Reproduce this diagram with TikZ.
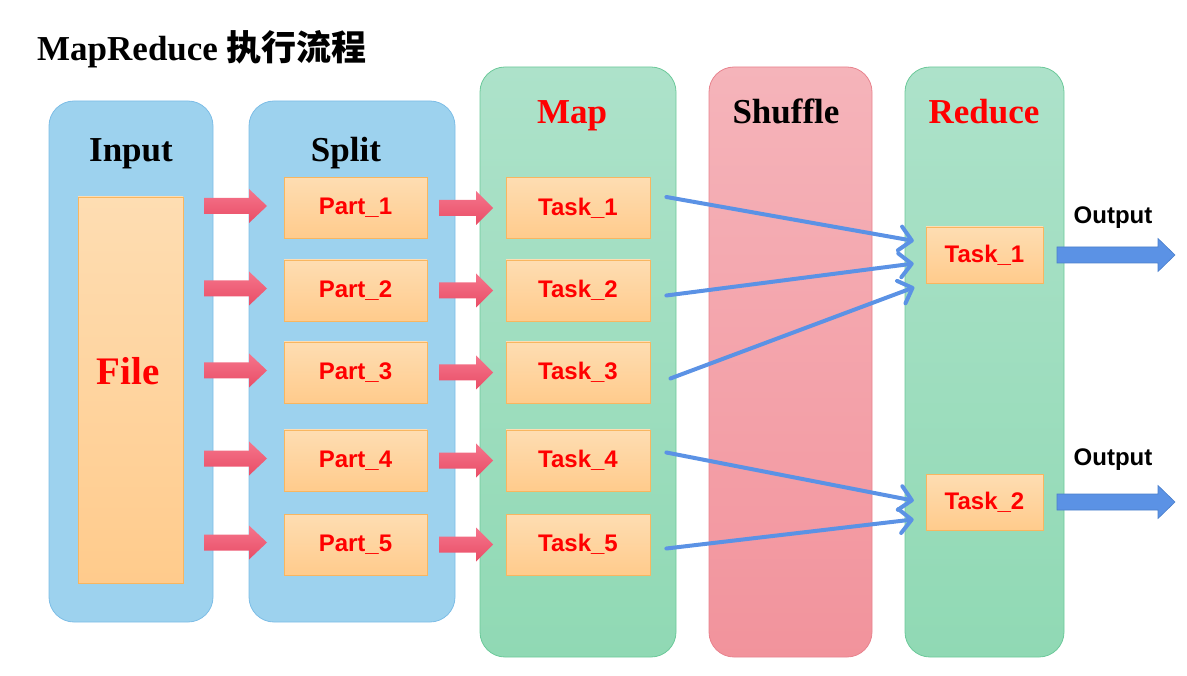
\documentclass[tikz,border=0pt]{standalone}
\usepackage{fontspec}
\setmainfont{Liberation Serif}
\newfontfamily\sansf{Liberation Sans}
\newfontfamily\cjkf{Noto Sans CJK SC}
\usetikzlibrary{arrows.meta,calc}
\definecolor{stageblue}{HTML}{9DD2EE}
\definecolor{stageblueline}{HTML}{7DBDE6}
\definecolor{greentop}{HTML}{ADE2CA}
\definecolor{greenbot}{HTML}{90D9B4}
\definecolor{greenline}{HTML}{6CC99A}
\definecolor{pinktop}{HTML}{F5B4BA}
\definecolor{pinkbot}{HTML}{F2939C}
\definecolor{pinkline}{HTML}{E8838E}
\definecolor{orangetop}{HTML}{FEDDB2}
\definecolor{orangebot}{HTML}{FFCB8C}
\definecolor{orangeline}{HTML}{F8B660}
\definecolor{redtxt}{HTML}{FF0000}
\definecolor{arrowtop}{HTML}{F5758C}
\definecolor{arrowbot}{HTML}{E94D66}
\definecolor{flowblue}{HTML}{5B92E5}
\definecolor{flowblueline}{HTML}{4A7FCB}
\tikzset{
  stage/.style={rounded corners=25pt, inner sep=0pt, draw, line width=0.8pt},
  bluestage/.style={stage, fill=stageblue, draw=stageblueline},
  greenstage/.style={stage, top color=greentop, bottom color=greenbot, draw=greenline},
  pinkstage/.style={stage, top color=pinktop, bottom color=pinkbot, draw=pinkline},
  stagetitle/.style={font=\fontsize{35}{40}\selectfont\bfseries, anchor=base, inner sep=0pt},
  taskbox/.style={top color=orangetop, bottom color=orangebot, draw=orangeline, line width=0.8pt,
    inner sep=0pt, font=\sansf\fontsize{24}{27}\selectfont\bfseries, text=redtxt},
  partbox/.style={taskbox, minimum width=143pt, minimum height=61pt},
  redarr/.style={top color=arrowtop, bottom color=arrowbot, draw=none},
  outarr/.style={fill=flowblue, draw=flowblueline, line width=0.6pt},
  flow/.style={draw=flowblue, line width=4pt, line cap=round,
    -{Straight Barb[length=12pt,width=24pt,line width=4pt,round]},
    shorten >=12pt},
  outlabel/.style={font=\sansf\fontsize{24}{27}\selectfont\bfseries, inner sep=0pt}
}
\begin{document}
\begin{tikzpicture}[x=1pt,y=-1pt]
\useasboundingbox (0,0) rectangle (1187,676);
% title
\node[anchor=base west, inner sep=0pt, font=\fontsize{35}{40}\selectfont\bfseries] (title) at (37,61)
  {MapReduce {\cjkf\fontsize{35}{40}\selectfont\bfseries 执行流程}};
% stages
\node[bluestage, minimum width=164pt, minimum height=521pt] (input) at (131,361.5) {};
\node[bluestage, minimum width=206pt, minimum height=521pt] (split) at (352,361.5) {};
\node[greenstage, minimum width=196pt, minimum height=590pt] (map) at (578,362) {};
\node[pinkstage, minimum width=163pt, minimum height=590pt] (shuffle) at (790.5,362) {};
\node[greenstage, minimum width=159pt, minimum height=590pt] (reduce) at (984.5,362) {};
\node[stagetitle] (tinput) at (131,162) {Input};
\node[stagetitle] (tsplit) at (346,162) {Split};
\node[stagetitle, text=redtxt] (tmap) at (572,124) {Map};
\node[stagetitle] (tshuffle) at (786,124) {Shuffle};
\node[stagetitle, text=redtxt] (treduce) at (984,124) {Reduce};
% file
\node[taskbox, minimum width=105pt, minimum height=386pt] (file) at (130.5,390) {};
\node[anchor=base, inner sep=0pt, text=redtxt, font=\fontsize{39}{44}\selectfont\bfseries] (tfile) at (128,385) {File};
% parts and map tasks
\foreach \i/\y in {1/208,2/290.5,3/372.5,4/460.5,5/544.5}{
  \node[partbox] (p\i) at (355.5,\y) {Part\_\i};
  \node[partbox, minimum width=144pt] (m\i) at (578,\y) {Task\_\i};
  \path[redarr] (204,\y-10) -- (249,\y-10) -- (249,\y-19) -- (267,\y-2) -- (249,\y+15) -- (249,\y+6) -- (204,\y+6) -- cycle;
  \path[redarr] (439,\y-8) -- (476,\y-8) -- (476,\y-17) -- (493,\y) -- (476,\y+17) -- (476,\y+8) -- (439,\y+8) -- cycle;
}
% reduce tasks
\node[taskbox, minimum width=117pt, minimum height=56pt] (r1) at (984.5,255) {Task\_1};
\node[taskbox, minimum width=117pt, minimum height=56pt] (r2) at (984.5,502) {Task\_2};
% flows
\draw[flow] ($(m1.east)+(16,-11)$) -- ($(r1.west)+(0,-12)$);
\draw[flow] ($(m2.east)+(16,5)$) -- ($(r1.west)+(0,7)$);
\draw[flow] ($(m3.east)+(20,6)$) -- ($(r1.west)+(0,28)$);
\draw[flow] ($(m4.east)+(16,-8)$) -- ($(r2.west)+(0,1)$);
\draw[flow] ($(m5.east)+(16,4)$) -- ($(r2.west)+(0,16)$);
% outputs
\foreach \r/\y in {1/255,2/502}{
  \path[outarr] (1057,\y-8) -- (1158,\y-8) -- (1158,\y-16.5) -- (1175,\y) -- (1158,\y+16.5) -- (1158,\y+8) -- (1057,\y+8) -- cycle;
}
\node[outlabel] (o1) at (1113,218) {Output};
\node[outlabel] (o2) at (1113,460) {Output};
\end{tikzpicture}
\end{document}
